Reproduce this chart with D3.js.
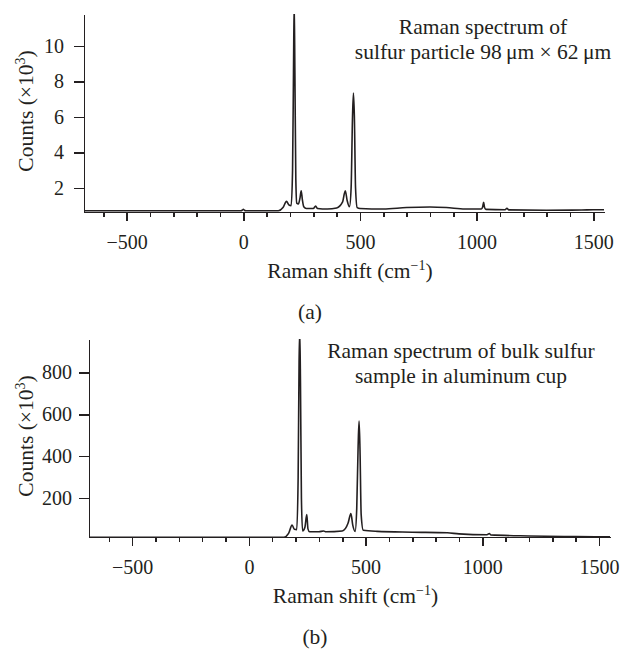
<!DOCTYPE html>
<html lang="en">
<head>
  <meta charset="UTF-8">
  <title>Raman spectra of sulfur</title>
  <script src="https://d3js.org/d3.v7.min.js"></script>
  <style>
    body {
      margin: 0;
      background: #fff;
    }

    svg text {
      font-family: "Liberation Serif", "Times New Roman", serif;
      fill: #231f20;
    }

    .axis path, .axis line {
      stroke: #231f20;
      stroke-width: 1.5;
      shape-rendering: crispEdges;
    }

    .axis text {
      font-size: 20px;
    }

    .label {
      font-size: 21.5px;
    }

    .spectrum {
      fill: none;
      stroke: #231f20;
      stroke-width: 1.6;
    }
  </style>
</head>
<body>
  <div id="chart"></div>

  <script>
    // Panel (a): sulfur particle, counts in units of 10^3
    const shiftA = [-683, -300, -10, -4, 0, 4, 10, 150, 170, 185, 195, 205, 211, 215, 218, 221, 225,
      229, 236, 243, 248, 253, 259, 270, 300, 310, 318, 360, 400, 425, 437, 445, 455, 462, 468, 472,
      476, 481, 488, 500, 600, 700, 800, 870, 950, 1020, 1026, 1030, 1034, 1040, 1122, 1130, 1137,
      1300, 1450, 1500, 1546];
    const countsA = [0.72, 0.72, 0.72, 0.76, 0.8, 0.76, 0.72, 0.72, 0.9, 1.25, 1.05, 1.0, 3.0, 8.5, 12.5, 8.5, 2.5,
      1.15, 1.1, 1.45, 1.85, 1.35, 0.95, 0.85, 0.85, 0.98, 0.85, 0.82, 0.88, 1.2, 1.85, 1.3, 0.95, 2.0, 6.0, 7.35,
      6.0, 2.0, 0.9, 0.85, 0.82, 0.9, 0.93, 0.9, 0.82, 0.82, 0.95, 1.2, 0.9, 0.8, 0.78, 0.86, 0.77,
      0.75, 0.76, 0.78, 0.78];

    // Panel (b): bulk sulfur in aluminum cup, counts in units of 10^3
    const shiftB = [-685, 150, 170, 185, 195, 205, 211, 215, 218, 221, 225, 230, 240, 248, 253, 260,
      300, 320, 330, 400, 425, 437, 445, 455, 462, 468, 472, 476, 481, 490, 550, 700, 850, 900,
      1020, 1030, 1036, 1200, 1400, 1547];
    const countsB = [12, 12, 30, 70, 50, 48, 300, 850, 1000, 750, 200, 42, 60, 120, 52, 38,
      38, 42, 38, 42, 80, 125, 70, 40, 150, 450, 567, 430, 120, 45, 40, 36, 33, 28,
      24, 30, 23, 18, 15, 14];

    const majorTicksX = [-500, 0, 500, 1000, 1500];
    const minorTicksX = d3.range(-600, 1501, 100);
    const ticksYA = [2, 4, 6, 8, 10];
    const ticksYB = [200, 400, 600, 800];
    const titleA = ["Raman spectrum of", "sulfur particle 98\u2009\u03bcm \u00d7 62\u2009\u03bcm"];
    const titleB = ["Raman spectrum of bulk sulfur", "sample in aluminum cup"];

    const svg = d3.select("#chart")
      .append("svg")
      .attr("width", 620)
      .attr("height", 649);

    function drawPanel(opt) {
      const x = d3.scaleLinear().domain(opt.xDomain).range([opt.left, opt.right]);
      const y = d3.scaleLinear().domain(opt.yDomain).range([opt.bottom, opt.top]);
      const g = svg.append("g");

      g.append("clipPath")
        .attr("id", opt.id)
        .append("rect")
        .attr("x", opt.left)
        .attr("y", opt.top)
        .attr("width", opt.right - opt.left)
        .attr("height", opt.bottom - opt.top);

      const pts = opt.xs.map((v, i) => [v, opt.ys[i]]);
      const line = d3.line()
        .x(d => x(d[0]))
        .y(d => y(d[1]))
        .curve(d3.curveMonotoneX);

      g.append("path")
        .attr("class", "spectrum")
        .attr("clip-path", `url(#${opt.id})`)
        .attr("d", line(pts));

      // minor ticks
      g.append("g")
        .attr("class", "axis")
        .attr("transform", `translate(0,${opt.bottom})`)
        .call(d3.axisBottom(x).tickValues(minorTicksX).tickSize(5).tickSizeOuter(0).tickFormat(""));

      g.append("g")
        .attr("class", "axis")
        .attr("transform", `translate(0,${opt.bottom})`)
        .call(d3.axisBottom(x).tickValues(majorTicksX).tickSize(9).tickSizeOuter(0).tickPadding(14)
          .tickFormat(d => d < 0 ? "\u2212" + Math.abs(d) : d));

      g.append("g")
        .attr("class", "axis")
        .attr("transform", `translate(${opt.left},0)`)
        .call(d3.axisLeft(y).tickValues(opt.yTicks).tickSize(10).tickSizeOuter(0).tickPadding(opt.yPad));

      g.selectAll(".axis .domain").attr("stroke-width", 1.8);

      // y label
      const yl = g.append("text")
        .attr("class", "label")
        .attr("transform", `translate(${opt.yLabelX},${(opt.top + opt.bottom) / 2 - 2}) rotate(-90)`)
        .attr("text-anchor", "middle");
      yl.append("tspan").text("Counts (\u00d710");
      yl.append("tspan").attr("dy", -8).style("font-size", "14px").text("3");
      yl.append("tspan").attr("dy", 8).text(")");

      // x label
      const xl = g.append("text")
        .attr("class", "label")
        .attr("x", (opt.left + opt.right) / 2 + 6)
        .attr("y", opt.bottom + 66)
        .attr("text-anchor", "middle");
      xl.append("tspan").text("Raman shift (cm");
      xl.append("tspan").attr("dy", -8).style("font-size", "14px").text("\u22121");
      xl.append("tspan").attr("dy", 8).text(")");

      g.append("text")
        .attr("class", "label")
        .attr("x", opt.left + 226)
        .attr("y", opt.bottom + 107)
        .attr("text-anchor", "middle")
        .text(opt.tag);

      g.selectAll(".title")
        .data(opt.title)
        .enter().append("text")
        .attr("class", "title label")
        .attr("x", opt.titleX)
        .attr("y", (d, i) => opt.titleY + i * 25)
        .attr("text-anchor", "middle")
        .text(d => d);
    }

    drawPanel({
      id: "clipA", left: 84, right: 604, top: 14, bottom: 212,
      xDomain: [-683, 1546], yDomain: [0.65, 11.8],
      xs: shiftA, ys: countsA, yTicks: ticksYA, yPad: 10, yLabelX: 33,
      title: titleA, titleX: 483, titleY: 34, tag: "(a)"
    });

    drawPanel({
      id: "clipB", left: 89, right: 610, top: 339, bottom: 537,
      xDomain: [-685, 1547], yDomain: [13, 960],
      xs: shiftB, ys: countsB, yTicks: ticksYB, yPad: 7, yLabelX: 33,
      title: titleB, titleX: 461, titleY: 358, tag: "(b)"
    });
  </script>
</body>
</html>
